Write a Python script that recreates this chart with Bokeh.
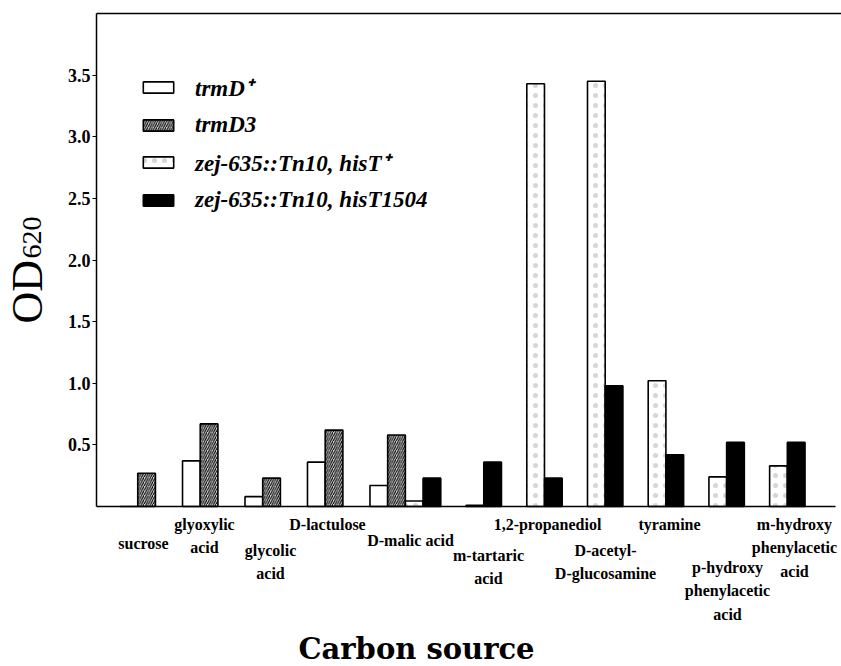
import math
from bokeh.plotting import figure
from bokeh.models import (Range1d, LinearAxis, FixedTicker, Legend, LegendItem,
                          ColumnDataSource, Label, PrintfTickFormatter)
from bokeh.embed import file_html
from bokeh.resources import INLINE

# ---------------- data ----------------
categories = ["sucrose", "glyoxylic acid", "glycolic acid", "D-lactulose", "D-malic acid",
              "m-tartaric acid", "1,2-propanediol", "D-acetyl-D-glucosamine", "tyramine",
              "p-hydroxy phenylacetic acid", "m-hydroxy phenylacetic acid"]
category_labels = ["sucrose", "glyoxylic\nacid", "glycolic\nacid", "D-lactulose", "D-malic acid",
                   "m-tartaric\nacid", "1,2-propanediol", "D-acetyl-\nD-glucosamine", "tyramine",
                   "p-hydroxy\nphenylacetic\nacid", "m-hydroxy\nphenylacetic\nacid"]

trmD_categories = categories[:5]
trmD_plus = [0.0, 0.37, 0.08, 0.36, 0.17]
trmD3 = [0.27, 0.67, 0.23, 0.62, 0.58]

zej_categories = categories[4:]
zej_hisT_plus = [0.045, 0.01, 3.43, 3.45, 1.02, 0.24, 0.33]
zej_hisT1504 = [0.23, 0.36, 0.23, 0.98, 0.42, 0.52, 0.52]

y_ticks = [0.5, 1.0, 1.5, 2.0, 2.5, 3.0, 3.5]
series_names = ["trmD\u207a", "trmD3", "zej-635::Tn10, hisT\u207a", "zej-635::Tn10, hisT1504"]
y_title, y_title_sub = "OD", "620"
x_title = "Carbon source"

# ---------------- layout (positions / styles) ----------------
W, H = 841, 666
AXIS_X_PX, TOP_PX = 96, 13      # page px of the y axis and of the top frame line
BASELINE_PX = 506               # page y of value 0
BASELINE_END_PX = 835
Y_MAX = 4.0
PY = (BASELINE_PX - TOP_PX) / Y_MAX
PX = 17.7                       # pixels per x unit (one bar width)
BAR_W = 1.0
trmD_first, trmD_step = 2.33, 3.53
zej_step = 3.43

trmD_centers = [trmD_first + i * trmD_step for i in range(len(trmD_categories))]
zej_first = trmD_centers[-1] + 2 * BAR_W
zej_centers = [zej_first + j * zej_step for j in range(len(zej_categories))]

# category-label anchors in page pixels (centre x, top y)
label_px_x = [143, 204, 270, 327, 410, 488, 547, 605, 669, 727, 794]
label_px_y = [534, 515, 541, 515, 531, 546, 515, 541, 515, 558, 515]


def dx(px):
    return (px - AXIS_X_PX) / PX


def dy(py):
    return (BASELINE_PX - py) / PY


serif = "Liberation Serif"

# the frame covers the whole canvas; axes are pinned at data locations
p = figure(width=W, height=H, output_backend="svg", toolbar_location=None,
           x_range=Range1d(dx(0), dx(W)), y_range=Range1d(dy(H), dy(0)),
           min_border=0, min_border_left=0, min_border_right=0,
           min_border_top=0, min_border_bottom=0,
           x_axis_location=None, y_axis_location=None)
p.outline_line_color = None
p.xgrid.visible = False
p.ygrid.visible = False
p.background_fill_color = "white"
p.border_fill_color = "white"

src_a = ColumnDataSource(dict(x=[c - BAR_W / 2 for c in trmD_centers], top=trmD_plus))
src_b = ColumnDataSource(dict(x=[c + BAR_W / 2 for c in trmD_centers], top=trmD3))
src_c = ColumnDataSource(dict(x=[c - BAR_W / 2 for c in zej_centers], top=zej_hisT_plus))
src_d = ColumnDataSource(dict(x=[c + BAR_W / 2 for c in zej_centers], top=zej_hisT1504))

r_a = p.vbar(x="x", top="top", width=BAR_W, source=src_a, fill_color="white",
             line_color="black", line_width=1.6)
r_b = p.vbar(x="x", top="top", width=BAR_W, source=src_b, fill_color="#d8d8d8",
             hatch_pattern="/", hatch_scale=4.5, hatch_weight=1.1, hatch_color="black",
             line_color="black", line_width=1.6)
r_c = p.vbar(x="x", top="top", width=BAR_W, source=src_c, fill_color="white",
             hatch_pattern=".", hatch_scale=10, hatch_weight=1, hatch_color="#d6d6d6",
             line_color="black", line_width=1.6)
r_d = p.vbar(x="x", top="top", width=BAR_W, source=src_d, fill_color="black",
             line_color="black", line_width=1.6)

# y axis pinned at x = 0
yax = LinearAxis(ticker=FixedTicker(ticks=y_ticks), formatter=PrintfTickFormatter(format="%.1f"),
                 bounds=(0, Y_MAX), fixed_location=0)
yax.axis_line_color = "black"
yax.axis_line_width = 1.5
yax.major_tick_in = 0
yax.major_tick_out = 4
yax.major_tick_line_width = 1.2
yax.minor_tick_line_color = None
yax.major_label_text_font = serif
yax.major_label_text_font_style = "bold"
yax.major_label_text_font_size = "18px"
yax.major_label_text_color = "black"
yax.major_label_standoff = 2
p.add_layout(yax, "left")

# baseline (x axis pinned at y = 0) and top frame line
xax = LinearAxis(ticker=FixedTicker(ticks=[]), bounds=(0, dx(BASELINE_END_PX)), fixed_location=0)
tax = LinearAxis(ticker=FixedTicker(ticks=[]), bounds=(0, dx(W)), fixed_location=Y_MAX)
for ax, lw in ((xax, 1.6), (tax, 1.3)):
    ax.axis_line_color = "black"
    ax.axis_line_width = lw
    ax.major_tick_line_color = None
    ax.minor_tick_line_color = None
    ax.major_label_text_font_size = "0px"
p.add_layout(xax, "below")
p.add_layout(tax, "above")

# y title (rotated) with subscript
p.add_layout(Label(x=dx(27), y=dy(323), text=y_title, angle=math.pi / 2,
                   text_font=serif, text_font_size="44px", text_color="black",
                   text_align="left", text_baseline="alphabetic"))
p.add_layout(Label(x=dx(31), y=dy(258), text=y_title_sub, angle=math.pi / 2,
                   text_font=serif, text_font_size="28px", text_color="black",
                   text_align="left", text_baseline="alphabetic"))

# category labels
lab_src = ColumnDataSource(dict(x=[dx(v) for v in label_px_x],
                                y=[dy(v) for v in label_px_y],
                                text=category_labels))
p.text(x="x", y="y", text="text", source=lab_src,
       text_font=serif, text_font_style="bold", text_font_size="16px",
       text_align="center", text_baseline="top", text_line_height=1.4,
       text_color="black")

p.add_layout(Label(x=dx(416), y=dy(631), text=x_title,
                   text_font="DejaVu Serif", text_font_style="bold", text_font_size="29px",
                   text_align="center", text_baseline="top", text_color="black"))

legend = Legend(items=[LegendItem(label=series_names[0], renderers=[r_a]),
                       LegendItem(label=series_names[1], renderers=[r_b]),
                       LegendItem(label=series_names[2], renderers=[r_c]),
                       LegendItem(label=series_names[3], renderers=[r_d])],
                location=(139, 453), orientation="vertical",
                glyph_width=38, glyph_height=14, label_standoff=18,
                label_text_font=serif, label_text_font_style="bold italic",
                label_text_font_size="23px", label_text_color="black",
                label_height=27, spacing=8,
                padding=0, margin=0, border_line_color=None,
                background_fill_alpha=0)
p.add_layout(legend)

open("out.html", "w").write(file_html(p, INLINE))
